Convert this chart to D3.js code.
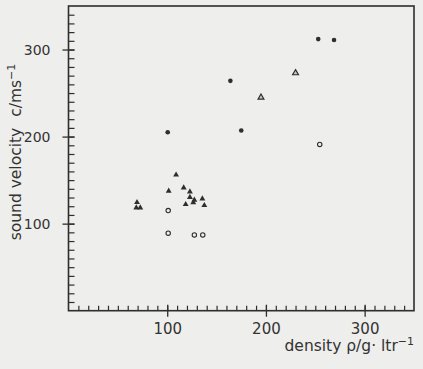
<!DOCTYPE html>
<html>
<head>
<meta charset="utf-8">
<script src="https://cdn.jsdelivr.net/npm/d3@7"></script>
<style>
  html, body { margin: 0; padding: 0; background: #eeeeec; }
  svg { display: block; }
  text { font-family: "DejaVu Sans", sans-serif; fill: #333; }
</style>
</head>
<body>
<div id="chart"></div>
<script>
// density (g/ltr) and sound velocity (m/s), one array per marker style
var filledCircleX = [253, 269, 164, 100.5, 175];
var filledCircleY = [312, 311, 264, 205, 207];

var openTriangleX = [230, 195];
var openTriangleY = [273, 245];

var openCircleX = [254.5, 101, 101, 127.5, 136];
var openCircleY = [191, 115, 89, 87, 87];

var filledTriangleX = [109, 101.5, 116.7, 123, 123, 118.7, 127.5, 126.4, 135.6, 137.6, 69.4, 68.7, 72.7];
var filledTriangleY = [156, 137.5, 141.3, 136.7, 130.3, 122.2, 127.2, 124.1, 128.6, 121.1, 124.5, 118.3, 118.3];

var majorTicks = [100, 200, 300];
var minorTicks = d3.range(10, 350, 10);

var W = 423, H = 369;
var box = {left: 68.5, right: 414, top: 6, bottom: 310.7};
var ink = "#2e2e2e";

var x = d3.scaleLinear().domain([0, 350]).range([box.left, box.right]);
var y = d3.scaleLinear().domain([0, 350]).range([box.bottom, box.top]);

var svg = d3.select("#chart").append("svg")
  .attr("width", W)
  .attr("height", H);

// minor ticks, pointing into the plot
svg.append("g")
  .attr("transform", "translate(" + box.left + ",0)")
  .call(d3.axisLeft(y).tickValues(minorTicks).tickSize(-6).tickFormat(""))
  .call(g => g.select(".domain").remove())
  .call(g => g.selectAll("line").attr("stroke", ink).attr("stroke-width", 1.2));

svg.append("g")
  .attr("transform", "translate(0," + box.bottom + ")")
  .call(d3.axisBottom(x).tickValues(minorTicks).tickSize(-5).tickFormat(""))
  .call(g => g.select(".domain").remove())
  .call(g => g.selectAll("line").attr("stroke", ink).attr("stroke-width", 1.2));

// major ticks cross the axis line
var yAxis = svg.append("g")
  .attr("transform", "translate(" + box.left + ",0)")
  .call(d3.axisLeft(y).tickValues(majorTicks).tickSize(6).tickPadding(12))
  .call(g => g.select(".domain").remove());
yAxis.selectAll(".tick line").attr("x1", 6).attr("stroke", ink).attr("stroke-width", 1.3);
yAxis.selectAll(".tick text").attr("font-size", 14).attr("fill", ink)
  .attr("font-family", "'DejaVu Sans', sans-serif");

var xAxis = svg.append("g")
  .attr("transform", "translate(0," + box.bottom + ")")
  .call(d3.axisBottom(x).tickValues(majorTicks).tickSize(6).tickPadding(7))
  .call(g => g.select(".domain").remove());
xAxis.selectAll(".tick line").attr("y1", -6).attr("stroke", ink).attr("stroke-width", 1.3);
xAxis.selectAll(".tick text").attr("font-size", 15).attr("fill", ink)
  .attr("font-family", "'DejaVu Sans', sans-serif");

// frame
svg.append("rect")
  .attr("x", box.left).attr("y", box.top)
  .attr("width", box.right - box.left).attr("height", box.bottom - box.top)
  .attr("fill", "none").attr("stroke", ink).attr("stroke-width", 1.6);

// markers
var tri = d3.symbol().type(d3.symbolTriangle).size(15);

svg.append("g").selectAll("path")
  .data(d3.zip(filledTriangleX, filledTriangleY))
  .enter().append("path")
  .attr("d", tri)
  .attr("transform", d => "translate(" + x(d[0]) + "," + y(d[1]) + ")")
  .attr("fill", ink);

svg.append("g").selectAll("path")
  .data(d3.zip(openTriangleX, openTriangleY))
  .enter().append("path")
  .attr("d", tri)
  .attr("transform", d => "translate(" + x(d[0]) + "," + y(d[1]) + ")")
  .attr("fill", "#c8c8c8")
  .attr("stroke", ink)
  .attr("stroke-width", 1.2);

svg.append("g").selectAll("circle")
  .data(d3.zip(filledCircleX, filledCircleY))
  .enter().append("circle")
  .attr("cx", d => x(d[0]))
  .attr("cy", d => y(d[1]))
  .attr("r", 2.3)
  .attr("fill", ink);

svg.append("g").selectAll("circle")
  .data(d3.zip(openCircleX, openCircleY))
  .enter().append("circle")
  .attr("cx", d => x(d[0]))
  .attr("cy", d => y(d[1]))
  .attr("r", 2.2)
  .attr("fill", "none")
  .attr("stroke", ink)
  .attr("stroke-width", 1.1);

// axis titles
var xt = svg.append("text")
  .attr("x", box.right)
  .attr("y", 351)
  .attr("text-anchor", "end")
  .attr("font-size", 15.5);
xt.append("tspan").text("density \u03c1/g\u00b7 ltr");
xt.append("tspan").attr("dy", -6).attr("font-size", 11).text("\u22121");

var yt = svg.append("text")
  .attr("transform", "translate(21,152) rotate(-90)")
  .attr("text-anchor", "middle")
  .attr("font-size", 15.5);
yt.append("tspan").text("sound velocity");
yt.append("tspan").attr("dx", 6).text(" c/ms");
yt.append("tspan").attr("dy", -6).attr("font-size", 11).text("\u22121");
</script>
</body>
</html>
